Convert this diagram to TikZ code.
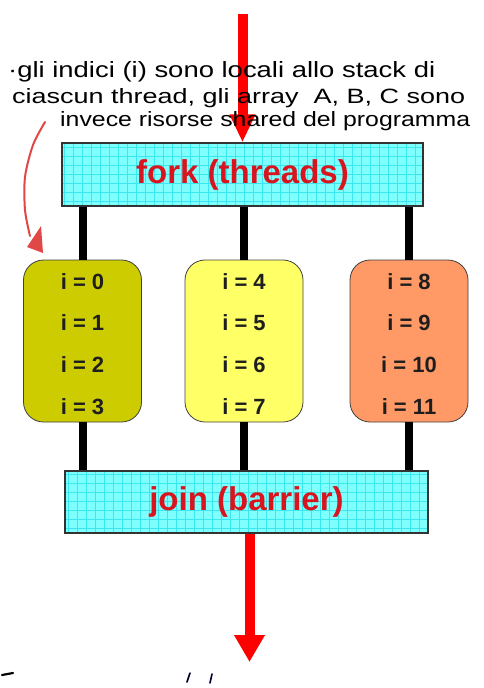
\documentclass[tikz,border=0pt]{standalone}
\usepackage{fontspec}
\setmainfont{Liberation Sans}
\usetikzlibrary{arrows.meta}
\definecolor{gridfill}{HTML}{80FFFF}
\definecolor{gridln}{HTML}{38E8EE}
\definecolor{boxred}{HTML}{D8141E}
\definecolor{arrred}{HTML}{FF0000}
\definecolor{handred}{HTML}{E04848}
\definecolor{olive}{HTML}{CCCC00}
\definecolor{lyellow}{HTML}{FFFF66}
\definecolor{lorange}{HTML}{FF9966}
\definecolor{txtdark}{HTML}{1E1E1E}
\tikzset{
  gridbox/.style={draw=black!80, line width=1.2pt, fill=gridfill, inner sep=0pt,
    text=boxred, font=\fontsize{33}{36}\selectfont\bfseries,
    path picture={\draw[gridln, line width=0.5pt, step=9pt]
      (path picture bounding box.south west) grid (path picture bounding box.north east);}},
  threadbox/.style={draw=black!75, line width=0.8pt, rounded corners=20pt,
    minimum width=118pt, minimum height=162pt, inner sep=0pt},
  itext/.style={text=txtdark, font=\fontsize{22}{24}\selectfont\bfseries, inner sep=0pt},
  bar/.style={line width=8pt, black},
  redarrow/.style={line width=10pt, arrred},
  hand/.style={inner sep=0pt, anchor=base west, text=black},
}
\begin{document}
\begin{tikzpicture}[x=1pt,y=-1pt]
\useasboundingbox (0,0) rectangle (484,688);
% top red arrow
\coordinate (top) at (242.5,14);
\node[gridbox, minimum width=361pt, minimum height=63pt] (fork) at (242.5,174.5) {fork (threads)};
\draw[redarrow, -{Triangle[width=24pt,length=28pt]}] (top) -- (fork.north -| top);
% handwritten note
\node[hand] (h1) at (8,77) {\resizebox{427pt}{16pt}{·gli indici (i) sono locali allo stack di}};
\node[hand] (h2) at (12,103) {\resizebox{453pt}{15pt}{ciascun thread, gli array \ A, B, C sono}};
\node[hand] (h3) at (60,126) {\resizebox{410pt}{15pt}{invece risorse shared del programma}};
% thread boxes
\node[threadbox, fill=olive] (b1) at (82.5,341) {};
\node[threadbox, fill=lyellow] (b2) at (244,341) {};
\node[threadbox, fill=lorange] (b3) at (409,341) {};
\foreach \b/\n in {b1/0,b2/4,b3/8}{
  \pgfmathtruncatemacro{\na}{\n}
  \pgfmathtruncatemacro{\nb}{\n+1}
  \pgfmathtruncatemacro{\nc}{\n+2}
  \pgfmathtruncatemacro{\nd}{\n+3}
  \node[itext] (t\na) at ([yshift=59pt]\b.center) {i = \na};
  \node[itext] (t\nb) at ([yshift=18pt]\b.center) {i = \nb};
  \node[itext] (t\nc) at ([yshift=-24pt]\b.center) {i = \nc};
  \node[itext] (t\nd) at ([yshift=-66pt]\b.center) {i = \nd};
}
% join box
\node[gridbox, minimum width=363pt, minimum height=62pt] (join) at (246.5,502) {join (barrier)};
% bars
\foreach \b in {b1,b2,b3}{
  \draw[bar] (\b.north |- fork.south) -- (\b.north);
  \draw[bar] (\b.south) -- (\b.south |- join.north);
}
% bottom red arrow
\coordinate (bot) at (249.5,662);
\draw[redarrow, -{Triangle[width=29pt,length=27pt]}] (join.south -| bot) -- (bot);
% hand-drawn red arrow
\draw[handred, line width=2pt, line cap=round] plot[smooth] coordinates {(45,122) (33,145) (25,177) (25,210) (30,236)};
\fill[handred] (27,247) -- (41,226) -- (43,253) -- cycle;
% small marks at bottom
\draw[black, line width=2.2pt, line cap=round] (2,675) -- (13,673);
\draw[black!80!blue, line width=1.6pt, line cap=round] (187,682) -- (190,673);
\draw[black!80!blue, line width=1.6pt, line cap=round] (210,683) -- (212,674);
\end{tikzpicture}
\end{document}
